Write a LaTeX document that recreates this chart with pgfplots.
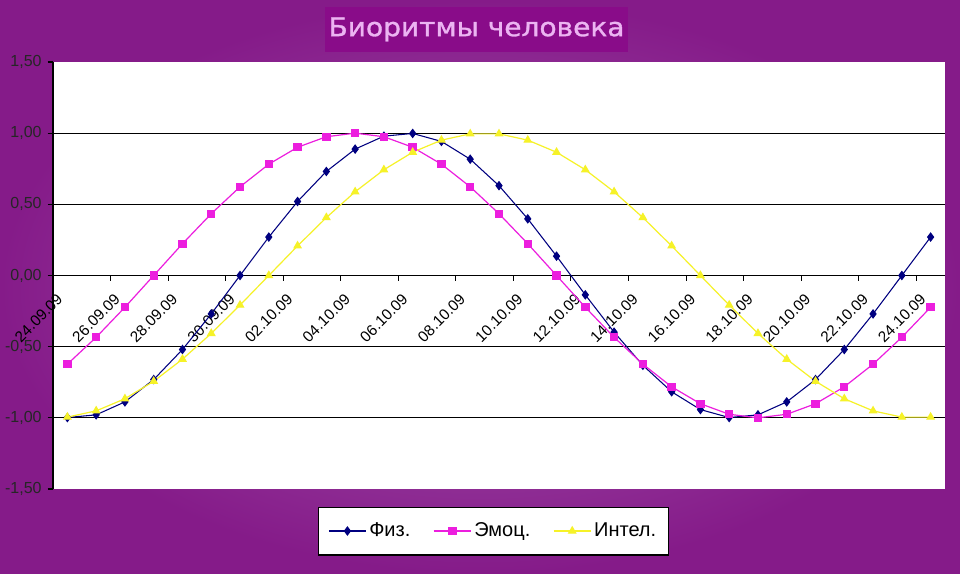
\documentclass[border=0pt]{standalone}
\usepackage{fontspec}
\setmainfont{Liberation Sans}
\newfontfamily\titlefont[FakeBold=1.2]{DejaVu Sans}
\usepackage{pgfplots}
\pgfplotsset{compat=1.18}
\usepackage{pgfplotstable}

\definecolor{bgout}{RGB}{133,27,137}
\definecolor{bgin}{RGB}{163,86,173}
\definecolor{titlebox}{RGB}{137,12,137}
\definecolor{titletext}{RGB}{236,180,242}
\definecolor{fiz}{RGB}{0,0,128}
\definecolor{emo}{RGB}{236,30,222}
\definecolor{intel}{RGB}{246,242,40}

\pgfplotstableread{
i fiz emo int
0 -0.998 -0.623 -0.995
1 -0.979 -0.434 -0.951
2 -0.888 -0.223 -0.866
3 -0.731 0.000 -0.743
4 -0.520 0.223 -0.588
5 -0.270 0.434 -0.407
6 0.000 0.623 -0.208
7 0.270 0.782 0.000
8 0.520 0.901 0.208
9 0.731 0.975 0.407
10 0.888 1.000 0.588
11 0.979 0.975 0.743
12 0.998 0.901 0.866
13 0.942 0.782 0.951
14 0.817 0.623 0.995
15 0.631 0.434 0.995
16 0.398 0.223 0.951
17 0.136 0.000 0.866
18 -0.136 -0.223 0.743
19 -0.398 -0.434 0.588
20 -0.631 -0.623 0.407
21 -0.817 -0.782 0.208
22 -0.942 -0.901 0.000
23 -0.998 -0.975 -0.208
24 -0.979 -1.000 -0.407
25 -0.888 -0.975 -0.588
26 -0.731 -0.901 -0.743
27 -0.520 -0.782 -0.866
28 -0.270 -0.623 -0.951
29 0.000 -0.434 -0.995
30 0.270 -0.223 -0.995
}\data

\begin{document}
\begin{tikzpicture}
\shade[inner color=bgin, outer color=bgout] (0pt,0pt) rectangle (720pt,430.5pt);
\fill[titlebox] (243.75pt,391.5pt) rectangle (471pt,425.25pt);
\node[text=titletext, inner sep=0pt] at (357.4pt,408.4pt)
  {\resizebox{222pt}{14pt}{\titlefont Биоритмы человека}};
\begin{axis}[
  at={(39.75pt,63.75pt)}, anchor=south west,
  scale only axis, width=669pt, height=320.25pt,
  xmin=-0.5, xmax=30.5, ymin=-1.5, ymax=1.5,
  axis x line=middle, axis y line=left,
  axis line style={-, black, line width=0.9pt},
  axis background/.style={fill=white},
  hide obscured x ticks=false, hide obscured y ticks=false,
  /pgf/number format/assume math mode=true,
  ytick={-1.5,-1,...,1.5},
  yticklabel={\pgfmathprintnumber[fixed, fixed zerofill, precision=2, use comma]{\tick}},
  yticklabel style={font=\fontsize{12}{14}\selectfont, text=black!85, xshift=-1pt},
  xtick={1.5,3.5,...,29.5}, xticklabels={},
  tick align=outside, major tick length=4pt,
  tick style={black, line width=0.8pt},
  major grid style={black, line width=0.9pt},
  extra x ticks={0,2,...,30},
  extra x tick labels={24.09.09,26.09.09,28.09.09,30.09.09,02.10.09,04.10.09,06.10.09,08.10.09,10.10.09,12.10.09,14.10.09,16.10.09,18.10.09,20.10.09,22.10.09,24.10.09},
  extra x tick style={major tick length=0pt, tick label style={xshift=-3.3pt, yshift=-13.7pt, rotate=45, anchor=east, font=\fontsize{11.5}{13}\selectfont}},
  extra y ticks={-1,-0.5,0,0.5,1}, extra y tick labels={},
  extra y tick style={grid=major, major tick length=0pt},
  legend image code/.code={\draw[mark repeat=2,mark phase=2,#1] plot coordinates {(0pt,0pt) (14pt,0pt) (28pt,0pt)};},
  legend columns=3,
  legend style={at={(0.4939,-0.0984)}, anchor=center, draw=black, line width=0.8pt, fill=white,
    font=\fontsize{15}{18}\selectfont, inner xsep=7pt, inner ysep=10pt,
    /tikz/every even column/.append style={column sep=15pt}},
]
\addplot[fiz, line width=0.8pt, mark=diamond*, mark size=3pt, mark options={solid, fill=fiz, draw=fiz}] table[x=i, y=fiz] {\data};
\addlegendentry{Физ.}
\addplot[emo, line width=0.9pt, mark=square*, mark size=2.7pt, mark options={solid, fill=emo, draw=emo}] table[x=i, y=emo] {\data};
\addlegendentry{Эмоц.}
\addplot[intel, line width=0.9pt, mark=triangle*, mark size=3pt, mark options={solid, fill=intel, draw=intel}] table[x=i, y=int] {\data};
\addlegendentry{Интел.}
\end{axis}
\pgfresetboundingbox
\path[use as bounding box] (0pt,0pt) rectangle (720pt,430.5pt);
\end{tikzpicture}
\end{document}
